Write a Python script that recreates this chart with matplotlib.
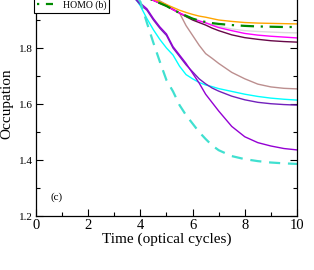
import matplotlib
matplotlib.use('Agg')
import matplotlib.pyplot as plt
from matplotlib.ticker import MultipleLocator

plt.rcParams['font.family'] = ['Liberation Serif', 'DejaVu Serif']

# time grid (optical cycles)
t = [0.0, 3.5, 3.75, 4.0, 4.25, 4.5, 4.75, 5.0, 5.25, 5.5, 5.75, 6.0,
     6.25, 6.5, 6.75, 7.0, 7.5, 8.0, 8.5, 9.0, 9.5, 10.0]

orange = [2.0, 2.0, 1.997, 1.99, 1.983, 1.975, 1.965, 1.955, 1.945, 1.935, 1.927, 1.92,
          1.914, 1.91, 1.905, 1.90, 1.895, 1.891, 1.889, 1.888, 1.887, 1.886]
homo_b = [2.0, 2.0, 1.997, 1.99, 1.98, 1.97, 1.96, 1.95, 1.937, 1.925, 1.915, 1.905,
          1.898, 1.893, 1.889, 1.886, 1.882, 1.879, 1.877, 1.876, 1.875, 1.875]
grey = [2.0, 2.0, 1.997, 1.99, 1.98, 1.97, 1.96, 1.95, 1.937, 1.925, 1.915, 1.905,
        1.897, 1.89, 1.884, 1.878, 1.868, 1.862, 1.859, 1.857, 1.855, 1.854]
magenta = [2.0, 2.0, 1.997, 1.99, 1.98, 1.97, 1.96, 1.95, 1.937, 1.925, 1.915, 1.905,
           1.897, 1.89, 1.881, 1.873, 1.862, 1.852, 1.846, 1.842, 1.839, 1.836]
maroon = [2.0, 2.0, 1.997, 1.99, 1.98, 1.97, 1.96, 1.95, 1.937, 1.925, 1.912, 1.90,
          1.891, 1.882, 1.871, 1.862, 1.847, 1.837, 1.831, 1.826, 1.823, 1.821]
rosy = [2.0, 2.0, 1.995, 1.988, 1.982, 1.975, 1.968, 1.955, 1.94, 1.925, 1.88, 1.845,
        1.81, 1.78, 1.763, 1.745, 1.713, 1.69, 1.671, 1.661, 1.656, 1.654]
cyan = [2.0, 2.0, 1.985, 1.95, 1.905, 1.865, 1.83, 1.80, 1.775, 1.735, 1.705, 1.69,
        1.677, 1.668, 1.662, 1.655, 1.645, 1.635, 1.627, 1.621, 1.617, 1.614]
indigo = [2.0, 2.0, 1.98, 1.955, 1.935, 1.90, 1.87, 1.845, 1.80, 1.77, 1.74, 1.715,
          1.69, 1.672, 1.657, 1.646, 1.628, 1.615, 1.606, 1.601, 1.598, 1.596]
violet = [2.0, 2.0, 1.985, 1.96, 1.94, 1.905, 1.875, 1.85, 1.805, 1.775, 1.745, 1.71,
          1.675, 1.635, 1.605, 1.575, 1.52, 1.483, 1.462, 1.45, 1.441, 1.436]
turq = [2.0, 2.0, 1.995, 1.965, 1.89, 1.818, 1.75, 1.685, 1.645, 1.596, 1.56, 1.53,
        1.50, 1.475, 1.452, 1.435, 1.414, 1.403, 1.396, 1.391, 1.388, 1.386]

fig = plt.figure(figsize=(3.14, 2.70), dpi=100)
ax = fig.add_axes([0.1146, 0.2, 0.8312, 0.8296])

ax.plot(t, grey, color='#dcdcdc', lw=1.0)
ax.plot(t, rosy, color='#bc8f8f', lw=1.0)
ax.plot(t, cyan, color='#00ffff', lw=1.0)
ax.plot(t, indigo, color='#7221bc', lw=1.0)
ax.plot(t, violet, color='#9400d3', lw=1.0)
ax.plot(t, maroon, color='#670748', lw=1.0)
ax.plot(t, magenta, color='#ff00ff', lw=1.0)
ax.plot(t, orange, color='#ffa500', lw=1.0, label='HOMO (a)')
ax.plot(t, turq, color='#40e0d0', lw=1.6, dashes=(5, 3.5))
ax.plot(t, homo_b, color='#008b00', lw=1.6, dashes=(1, 3, 6, 3), label='HOMO (b)')

ax.set_xlim(0, 10)
ax.set_ylim(1.2, 2.0)
ax.xaxis.set_major_locator(MultipleLocator(2))
ax.xaxis.set_minor_locator(MultipleLocator(1))
ax.yaxis.set_major_locator(MultipleLocator(0.2))
ax.yaxis.set_minor_locator(MultipleLocator(0.1))
ax.tick_params(which='both', direction='in', top=True, right=True, width=0.8)
ax.tick_params(which='major', length=5)
ax.tick_params(which='minor', length=3)
ax.tick_params(axis='x', labelsize=10.5, pad=2.5)
ax.tick_params(axis='y', labelsize=8, pad=2)
ax.yaxis.set_major_formatter(plt.FuncFormatter(lambda v, p: '%.1f' % v))
for s in ax.spines.values():
    s.set_linewidth(0.9)

ax.set_xlabel('Time (optical cycles)', fontsize=11, labelpad=0)
ax.set_ylabel('Occupation', fontsize=11, labelpad=4)
ax.text(0.8, 1.268, '(c)', fontsize=8, ha='center', va='center')

leg = ax.legend(loc='lower left', bbox_to_anchor=(34 / 314, 1 - 13 / 270),
                bbox_transform=fig.transFigure, fontsize=7, frameon=True,
                fancybox=False, edgecolor='black', framealpha=1,
                handlelength=1.65, handletextpad=1.0, borderpad=0.3,
                labelspacing=0.3, borderaxespad=0)
leg.get_frame().set_linewidth(0.8)

fig.savefig('out.png', dpi=100)
